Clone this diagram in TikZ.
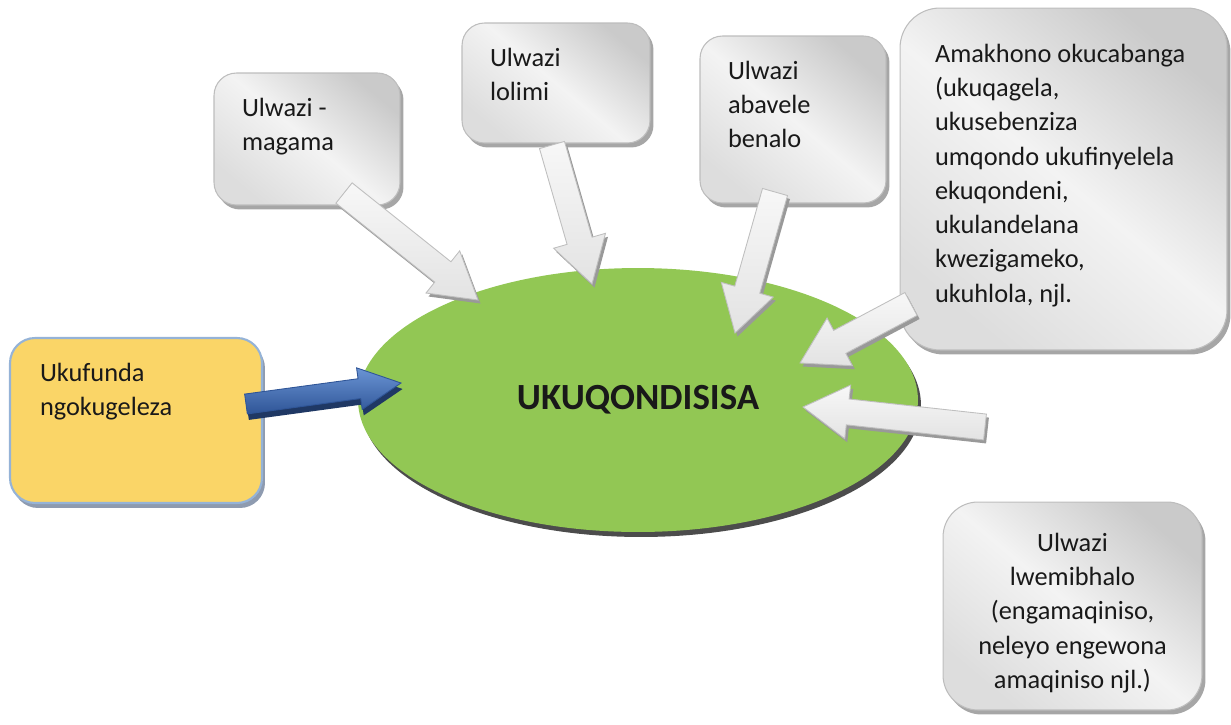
\documentclass[tikz,border=0pt]{standalone}
\usepackage{fontspec}
\setmainfont{Carlito}
\usetikzlibrary{shapes.geometric,shadows,calc}
\definecolor{greenfill}{HTML}{92C754}
\definecolor{yellowfill}{HTML}{FAD567}
\definecolor{yellowedge}{HTML}{95B3D7}
\definecolor{yellowshadow}{HTML}{8E9BB0}
\definecolor{boxedge}{HTML}{BDBDBD}
\definecolor{boxdark}{HTML}{CACACA}
\definecolor{boxmid}{HTML}{DDDDDD}
\definecolor{boxlight}{HTML}{F3F3F3}
\definecolor{bluetop}{HTML}{6A94D4}
\definecolor{bluebottom}{HTML}{2F5597}
\definecolor{blueshadow}{HTML}{1F3864}
\newcommand{\boxfont}{\fontsize{15}{19.5}\selectfont}
\newcommand{\boxtext}[4][\raggedright]{\parbox[c][#3][t]{#2}{#1#4}}
\def\arrshaft{0.26cm}
\def\arrhead{0.54cm}
\def\arrlen{0.9cm}
\newcommand{\blockarrow}[3][greyarrow]{%
	\coordinate (neck) at ($(#3)!\arrlen!(#2)$);
	\draw[#1] ($(#2)!\arrshaft!90:(#3)$) -- ($(neck)!\arrshaft!-90:(#2)$) -- ($(neck)!\arrhead!-90:(#2)$) -- (#3) -- ($(neck)!\arrhead!90:(#2)$) -- ($(neck)!\arrshaft!90:(#2)$) -- ($(#2)!\arrshaft!-90:(#3)$) -- cycle;}
\tikzset{
	greybox/.style={draw=boxedge, line width=0.6pt, rounded corners=0.45cm, top color=boxdark, bottom color=boxmid, middle color=boxlight, shading angle=-40, drop shadow={shadow xshift=0.07cm, shadow yshift=-0.09cm, fill=black!35, opacity=1}, inner xsep=0.56cm, inner ysep=0.5cm, font=\boxfont, text=black!90},
	yellowbox/.style={draw=yellowedge, line width=1.2pt, rounded corners=0.5cm, fill=yellowfill, drop shadow={shadow xshift=0.06cm, shadow yshift=-0.1cm, fill=yellowshadow, opacity=1}, inner xsep=0.6cm, inner ysep=0.5cm, font=\boxfont, text=black!90},
	bigoval/.style={ellipse, fill=greenfill, minimum width=11.2cm, minimum height=5.28cm, inner sep=0pt, drop shadow={shadow xshift=0.06cm, shadow yshift=-0.1cm, fill=black!70, opacity=1}, font=\fontsize{21}{25}\bfseries\selectfont, text=black!90},
	greyarrow/.style={draw=gray!50, line width=0.5pt, top color=gray!6, bottom color=gray!22, drop shadow={shadow xshift=0.05cm, shadow yshift=-0.07cm, fill=black!40, opacity=1}},
	bluearrow/.style={draw=bluebottom, line width=0.5pt, top color=bluetop, bottom color=bluebottom, drop shadow={shadow xshift=0.03cm, shadow yshift=-0.12cm, fill=blueshadow, opacity=1}}
}
\begin{document}
\begin{tikzpicture}[x=0.02cm, y=-0.02cm]
	\useasboundingbox (0,0) rectangle (1231,724);
	\node[bigoval] (oval) at (638,400) {UKUQONDISISA};
	\node[greybox] (magama) at (307,139) {\boxtext{2.60cm}{1.64cm}{Ulwazi -\\magama}};
	\node[greybox] (lolimi) at (556,83) {\boxtext{2.64cm}{1.40cm}{Ulwazi\\lolimi}};
	\node[greybox] (abavele) at (793,119.5) {\boxtext{2.60cm}{2.34cm}{Ulwazi\\abavele\\benalo}};
	\node[greybox, rounded corners=0.8cm, inner xsep=0.7cm, inner ysep=0.72cm] (amakhono) at (1063.5,179) {\boxtext{5.14cm}{5.40cm}{Amakhono okucabanga\\(ukuqagela,\\ukusebenziza\\umqondo ukufinyelela\\ekuqondeni,\\ukulandelana\\kwezigameko,\\ukuhlola, njl.}};
	\node[greybox, rounded corners=0.7cm, inner ysep=0.62cm] (lwemibhalo) at (1072.5,606) {\boxtext[\centering]{4.06cm}{2.92cm}{Ulwazi\\lwemibhalo\\(engamaqiniso,\\neleyo engewona\\amaqiniso njl.)}};
	\node[yellowbox] (ukufunda) at (136,420.5) {\boxtext{3.84cm}{2.30cm}{Ukufunda\\ngokugeleza}};
	\coordinate (magama tail) at (344,193);
	\coordinate (magama tip) at (478,300);
	\coordinate (lolimi tail) at (552,145);
	\coordinate (lolimi tip) at (592,284);
	\coordinate (abavele tail) at (775,192);
	\coordinate (abavele tip) at (735,333);
	\coordinate (amakhono tail) at (911,304);
	\coordinate (amakhono tip) at (800,363);
	\coordinate (lwemibhalo tail) at (985,427);
	\coordinate (lwemibhalo tip) at (803,407);
	\coordinate (ukufunda tail) at (246,404);
	\coordinate (ukufunda tip) at (401,383);
	\blockarrow{magama tail}{magama tip}
	\blockarrow{lolimi tail}{lolimi tip}
	\blockarrow{abavele tail}{abavele tip}
	\blockarrow{amakhono tail}{amakhono tip}
	\blockarrow{lwemibhalo tail}{lwemibhalo tip}
	\def\arrshaft{0.2cm}
	\def\arrhead{0.42cm}
	\def\arrlen{0.84cm}
	\blockarrow[bluearrow]{ukufunda tail}{ukufunda tip}
\end{tikzpicture}
\end{document}
